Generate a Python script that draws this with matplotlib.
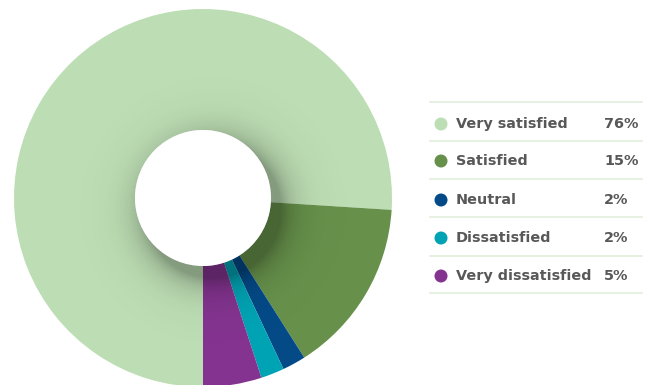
import numpy as np
import matplotlib
matplotlib.use("Agg")
import matplotlib.pyplot as plt
from matplotlib.patches import Circle

categories = ["Very satisfied", "Satisfied", "Neutral", "Dissatisfied", "Very dissatisfied"]
values = [76, 15, 2, 2, 5]
pct_labels = ["76%", "15%", "2%", "2%", "5%"]
colors = ["#bddeb4", "#67914b", "#044a87", "#00a3b4", "#843490"]

W, H = 653, 385
fig = plt.figure(figsize=(W / 100, H / 100), dpi=100)
ax = fig.add_axes([0, 0, 1, 1])

cx, cy = 203, H - 198
R, r = 189, 68

wedges, _ = ax.pie(values, colors=colors, startangle=-90, counterclock=False,
                   radius=R, center=(cx, cy), frame=True,
                   wedgeprops=dict(width=R - r, linewidth=0))
ax.set_xlim(0, W)
ax.set_ylim(0, H)
ax.set_aspect("equal")
ax.axis("off")

# soft shadow around the hole (offset down-right)
x0, x1, y0, y1 = cx - R, cx + R, cy - R, cy + R
n = 500
xs = np.linspace(x0, x1, n)
ys = np.linspace(y0, y1, n)
X, Y = np.meshgrid(xs, ys)
sx, sy = cx + 10, cy - 12
d = np.hypot(X - sx, Y - sy) - r
alpha = np.where(d > 0, 0.30 * np.exp(-d / 15.0), 0.30)
img = np.zeros((n, n, 4))
img[..., 3] = alpha
im = ax.imshow(img, extent=(x0, x1, y0, y1), origin="lower", zorder=2, interpolation="bilinear")
im.set_clip_path(Circle((cx, cy), R, transform=ax.transData))
ax.add_patch(Circle((cx, cy), r, facecolor="white", edgecolor="none", zorder=3))
ax.set_xlim(0, W)
ax.set_ylim(0, H)

# legend table
row_y = [124, 161, 200, 238, 276]
line_y = [102, 141, 179, 217, 256, 293]
for ly in line_y:
    ax.plot([430, 642], [H - ly, H - ly], color="#e2efdd", lw=1.2, zorder=1)
for cat, pct, col, ry in zip(categories, pct_labels, colors, row_y):
    ax.add_patch(Circle((441, H - ry), 6.5, facecolor=col, edgecolor="none"))
    ax.text(456, H - ry, cat, fontsize=10.4, fontweight="bold", color="#585858",
            va="center", ha="left", family="DejaVu Sans")
    ax.text(604, H - ry, pct, fontsize=10.4, fontweight="bold", color="#585858",
            va="center", ha="left", family="DejaVu Sans")

fig.savefig("out.png", dpi=100)
